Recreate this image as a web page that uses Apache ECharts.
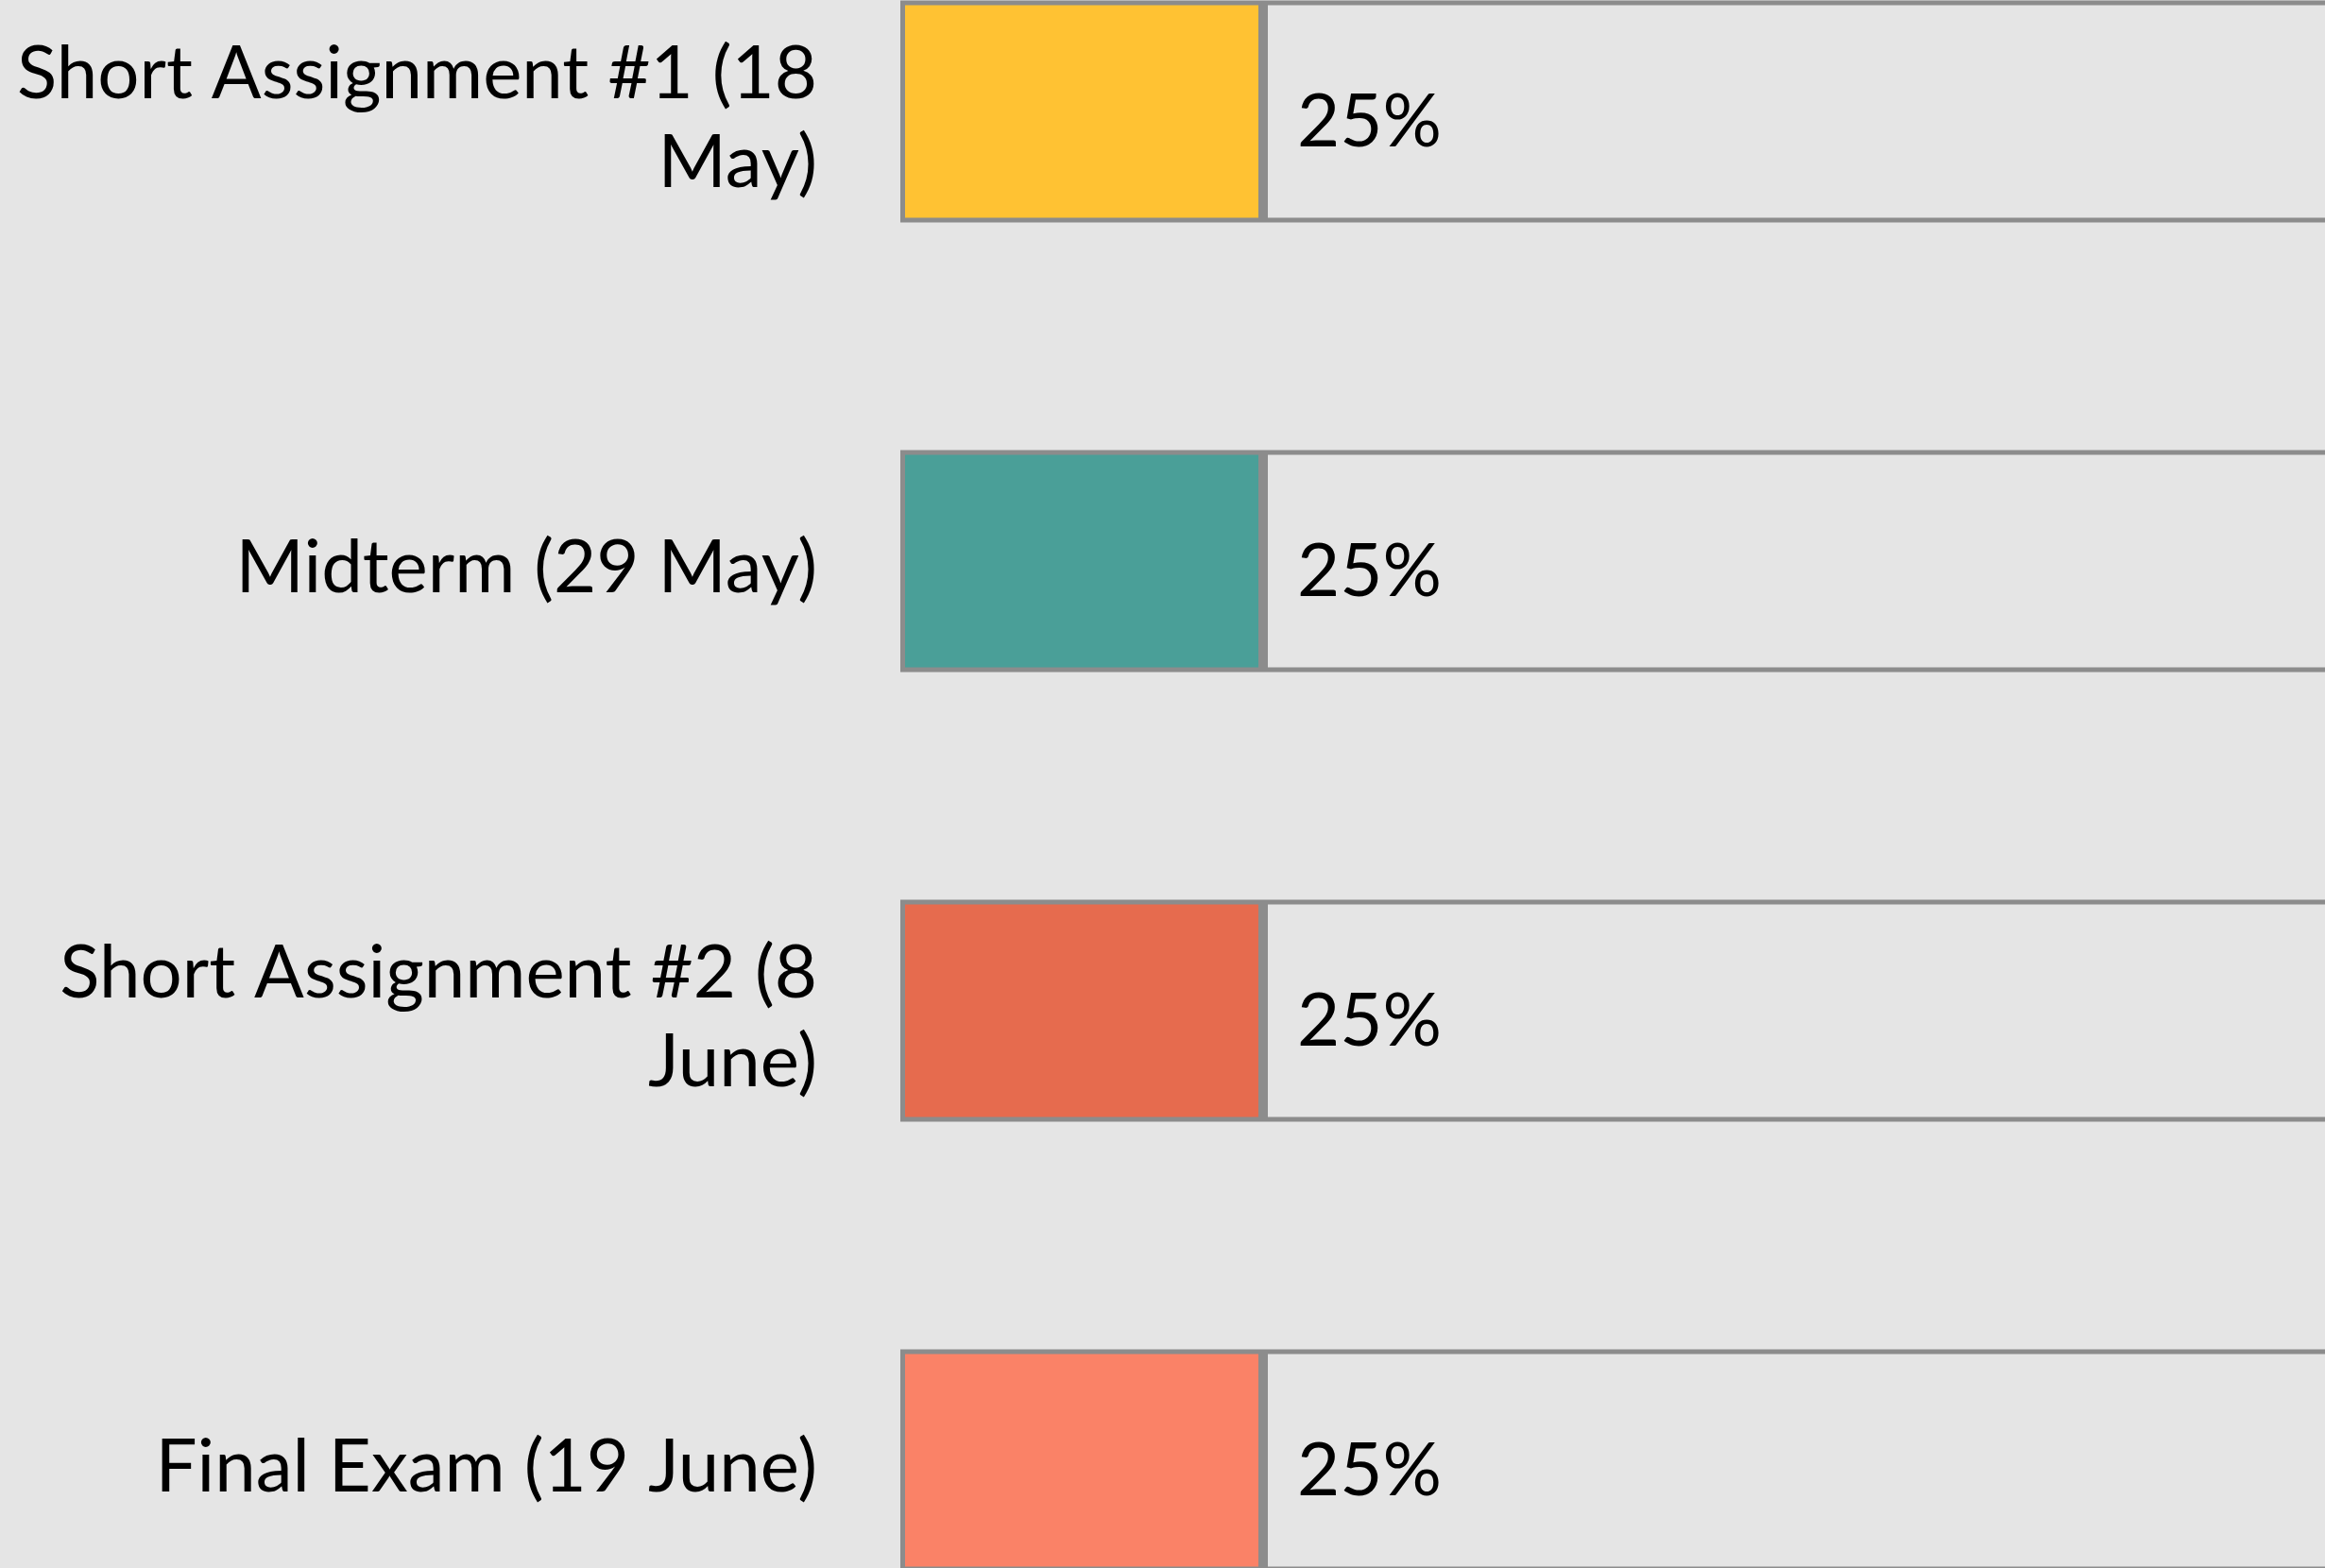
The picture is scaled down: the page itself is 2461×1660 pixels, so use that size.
<!DOCTYPE html>
<html>
<head>
<meta charset="utf-8">
<script src="https://cdn.jsdelivr.net/npm/echarts@6/dist/echarts.min.js"></script>
<style>
  html, body { margin: 0; padding: 0; background: #e5e5e5; }
  #weights { width: 2461px; height: 1660px; }
</style>
</head>
<body>
<div id="weights"></div>
<script>
var categories = ['Short Assignment #1 (18 May)', 'Midterm (29 May)', 'Short Assignment #2 (8 June)', 'Final Exam (19 June)'];
var weights = [25, 25, 25, 25];
var remaining = [75, 75, 75, 75];
var barColors = ['#ffc233', '#4a9f98', '#e66b4e', '#fa8267'];

var labelFont = '78px Lato';
var measureCtx = document.createElement('canvas').getContext('2d');

// word wrap without leaving a trailing space on the first line
function wrapLabel(text) {
    measureCtx.font = labelFont;
    var words = text.split(' ');
    var lines = [];
    var line = '';
    words.forEach(function (w) {
        var test = line ? line + ' ' + w : w;
        if (line && measureCtx.measureText(test).width > 900) {
            lines.push(line);
            line = w;
        } else {
            line = test;
        }
    });
    lines.push(line);
    return lines.map(function (l) { return '{t|' + l + '}'; }).join('\n');
}

var weightsChart = echarts.init(document.getElementById('weights'));

var weightsOption = {
    backgroundColor: '#e5e5e5',
    animation: false,
    textStyle: { fontFamily: 'Lato' },
    grid: {
        left: 953,
        top: -120,
        width: 1536,
        height: 1904,
        outerBoundsMode: 'none',
        containLabel: false
    },
    xAxis: {
        type: 'value',
        min: 0,
        max: 100,
        show: false
    },
    yAxis: {
        type: 'category',
        inverse: true,
        data: categories,
        axisLine: { show: false },
        axisTick: { show: false },
        splitLine: { show: false },
        axisLabel: {
            margin: 88,
            fontFamily: 'Lato',
            fontSize: 78,
            lineHeight: 94,
            color: '#000',
            align: 'right',
            formatter: wrapLabel,
            rich: {
                t: { fontFamily: 'Lato', fontSize: 78, lineHeight: 94, color: '#000', padding: [16, 0, 0, 0] }
            }
        }
    },
    series: [
        {
            // weight of each assessment
            name: 'weight',
            type: 'bar',
            stack: 'total',
            z: 3,
            barWidth: 235,
            data: weights.map(function (v, i) {
                return { value: v, itemStyle: { color: barColors[i] } };
            }),
            itemStyle: { borderColor: '#8c8c8c', borderWidth: 5 },
            label: {
                show: true,
                position: 'right',
                distance: 36,
                offset: [0, 12],
                fontFamily: 'Lato',
                fontSize: 78,
                color: '#000',
                formatter: '{c}%'
            }
        },
        {
            name: 'rest',
            type: 'bar',
            stack: 'total',
            z: 2,
            barWidth: 235,
            data: remaining,
            itemStyle: { color: '#e5e5e5', borderColor: '#8c8c8c', borderWidth: 5 },
            silent: true
        }
    ]
};
weightsChart.setOption(weightsOption);
</script>
</body>
</html>
